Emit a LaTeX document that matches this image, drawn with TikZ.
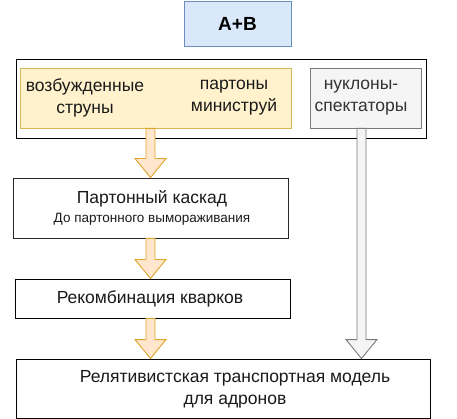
\documentclass[tikz,border=0pt]{standalone}
\usepackage{fontspec}
\setmainfont{Liberation Sans}
\usetikzlibrary{calc}

\definecolor{bluefill}{HTML}{DAE8FC}
\definecolor{bluedraw}{HTML}{6C8EBF}
\definecolor{yelfill}{HTML}{FFF2CC}
\definecolor{yeldraw}{HTML}{D6B656}
\definecolor{orfill}{HTML}{FFE6CC}
\definecolor{ordraw}{HTML}{DDA52A}
\definecolor{grfill}{HTML}{F5F5F5}
\definecolor{grdraw}{HTML}{7A7A7A}
\definecolor{txt}{HTML}{1A1A1A}

\tikzset{
  stage/.style={draw=black, fill=white, line width=0.9pt, inner sep=0pt, align=center},
  label/.style={inner sep=0pt, align=center, text=txt, font=\fontsize{17.5}{22}\selectfont},
  flow/.style={fill=orfill, draw=ordraw, line width=0.9pt},
  pass/.style={fill=grfill, draw=grdraw, line width=0.9pt},
}

% fat arrow: style, x position, from node, to node
\newcommand{\fatarrow}[4]{%
  \draw[#1] let \p1=(#3.south), \p2=(#4.north) in
    ({#2pt-4.5pt},\y1) -- ({#2pt-4.5pt},{\y2+19pt}) -- ({#2pt-15.5pt},{\y2+19pt})
    -- (#2pt,\y2) -- ({#2pt+15.5pt},{\y2+19pt}) -- ({#2pt+4.5pt},{\y2+19pt})
    -- ({#2pt+4.5pt},\y1) -- cycle;
}

\begin{document}
\begin{tikzpicture}[x=1pt, y=-1pt]

    \useasboundingbox (0,0) rectangle (457,419);

    % collision
    \node[stage, draw=bluedraw, fill=bluefill, minimum width=107pt, minimum height=45pt,
          font=\fontsize{19}{22}\selectfont\bfseries] (ab) at (237.5,23.5) {A+B};

    % initial state
    \node[stage, minimum width=410pt, minimum height=79pt] (init) at (221,98.5) {};
    \node[stage, draw=yeldraw, fill=yelfill, minimum width=271pt, minimum height=60pt] (strings) at (155.5,98) {};
    \node[stage, draw=grdraw, fill=grfill, minimum width=111pt, minimum height=60pt] (spect) at (365.5,98) {};
    \node[label] (exc) at (85,98) {возбужденные\\струны};
    \node[label] (mini) at (234,98) {партоны\\министруй};
    \node[label, text=black!80] (nucl) at (361,98) {нуклоны-\\спектаторы};

    % evolution
    \node[stage, draw=black!85, minimum width=275pt, minimum height=60pt] (casc) at (150.5,208) {};
    \node[label] (casct) at (152,199) {Партонный каскад};
    \node[label, font=\fontsize{13.5}{16}\selectfont] (cascs) at (152,219) {До партонного вымораживания};

    \node[stage, minimum width=275pt, minimum height=39pt] (recomb) at (152.5,298.5) {};
    \node[label] (recombt) at (150,298.5) {Рекомбинация кварков};

    \node[stage, minimum width=414pt, minimum height=59pt] (rtm) at (223,388.5) {};
    \node[label] (rtmt) at (235,389) {Релятивистская транспортная модель\\для адронов};

    % arrows
    \fatarrow{flow}{150.5}{strings}{casc}
    \fatarrow{flow}{150.5}{casc}{recomb}
    \fatarrow{flow}{150.5}{recomb}{rtm}
    \fatarrow{pass}{361.5}{spect}{rtm}

\end{tikzpicture}
\end{document}
